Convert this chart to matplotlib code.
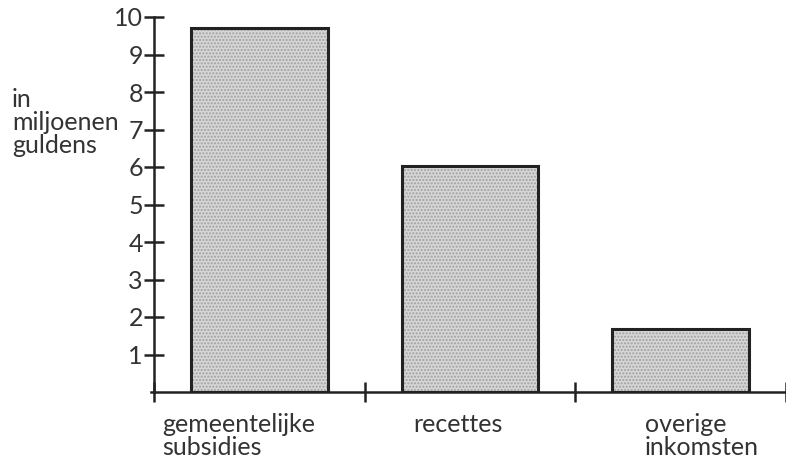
import numpy as np
import matplotlib
matplotlib.use("Agg")
from matplotlib import pyplot as plt

# dati
categorie = ["gemeentelijke\nsubsidies", "recettes", "overige\ninkomsten"]
valori = [9.7, 6.03, 1.68]
yticks = list(range(1, 11))

plt.rcParams['font.family'] = ['Lato', 'DejaVu Sans']
fs = 18

W, H = 786, 462
fig = plt.figure(figsize=(W / 100, H / 100), dpi=100)
ax = fig.add_axes([154 / W, (H - 392) / H, (786 - 154) / W, (392 - 17) / H])

x = np.arange(len(categorie)) + 0.5
# riempimento grigio + puntinato
ax.bar(x, valori, width=0.65, color='#d6d6d6', edgecolor='none', zorder=2)
ax.bar(x, valori, width=0.65, color='none', edgecolor='#a0a0a0', hatch='.....',
       linewidth=0, zorder=3)
ax.bar(x, valori, width=0.65, color='none', edgecolor='#222222', linewidth=2.2, zorder=4)

ax.set_xlim(0, 3)
ax.set_ylim(0, 10)
for s in ['top', 'right']:
    ax.spines[s].set_visible(False)
for s in ['left', 'bottom']:
    ax.spines[s].set_linewidth(1.8)
    ax.spines[s].set_color('#222222')

ax.set_yticks(yticks)
ax.set_yticklabels([str(v) for v in yticks], fontsize=fs, color='#333333')
ax.tick_params(axis='y', direction='inout', length=14, width=1.8, pad=1, color='#222222')
ax.set_xticks([0, 1, 2, 3])
ax.set_xticklabels([])
ax.tick_params(axis='x', direction='inout', length=14, width=1.8, color='#222222')

# tick orizzontale dello zero (asse y prolungato a sinistra)
ax.plot([-0.012, 0], [0, 0], color='#222222', lw=1.8, clip_on=False)

# etichette categorie
lx = [162, 413, 645]
for cat, px in zip(categorie, lx):
    fig.text(px / W, 1 - 413 / H, cat, fontsize=fs, color='#333333',
             ha='left', va='top', linespacing=1.02)

fig.text(12 / W, 1 - 88 / H, "in\nmiljoenen\nguldens", fontsize=fs, color='#333333',
         ha='left', va='top', linespacing=1.0)

fig.savefig("out.png", dpi=100, facecolor='white')
